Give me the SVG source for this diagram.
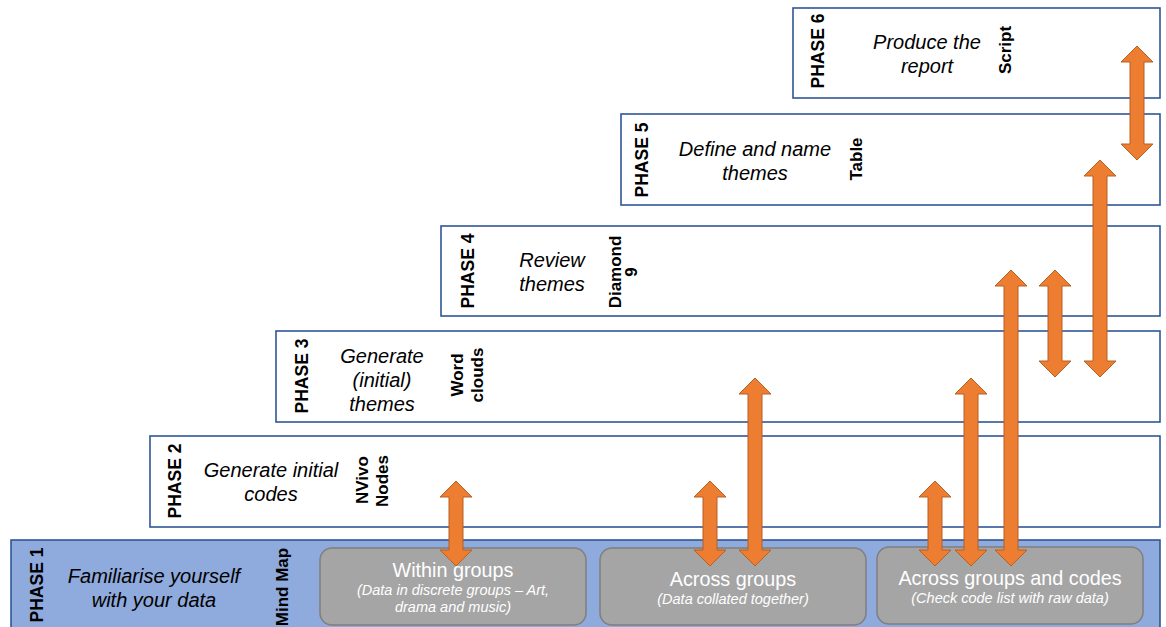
<svg xmlns="http://www.w3.org/2000/svg" width="1166" height="627" viewBox="0 0 1166 627">
<style>
.box{fill:#FFFFFF;stroke:#2F5597;stroke-width:1.6}
.p1{fill:#8FAADC;stroke:#2F5597;stroke-width:1.6}
.grey{fill:#A5A5A5;stroke:#7F7F7F;stroke-width:1.5}
.ph{font-family:"Liberation Sans",Arial,sans-serif;font-weight:bold;font-size:17.5px;fill:#000;text-anchor:middle}
.tool{font-family:"Liberation Sans",Arial,sans-serif;font-weight:bold;font-size:17px;fill:#000;text-anchor:middle}
.it{font-family:"Liberation Sans",Arial,sans-serif;font-style:italic;font-size:20px;fill:#000;text-anchor:middle}
.gt{font-family:"Liberation Sans",Arial,sans-serif;font-size:19.8px;fill:#FFFFFF;text-anchor:middle}
.gs{font-family:"Liberation Sans",Arial,sans-serif;font-style:italic;font-size:14.5px;fill:#FFFFFF;text-anchor:middle}
.arr{fill:#ED7D31;stroke:#B85F22;stroke-width:1}
</style>
<g id="phase6">
<rect class="box" x="793" y="8" width="367" height="90"/>
<text class="ph" transform="translate(824,51) rotate(-90)">PHASE 6</text>
<text class="it" x="927" y="49">Produce the</text>
<text class="it" x="927" y="73">report</text>
<text class="tool" transform="translate(1011,50) rotate(-90)">Script</text>
</g>
<g id="phase5">
<rect class="box" x="621" y="114" width="539" height="91"/>
<text class="ph" transform="translate(648,160) rotate(-90)">PHASE 5</text>
<text class="it" x="755" y="156">Define and name</text>
<text class="it" x="755" y="180">themes</text>
<text class="tool" transform="translate(862,159) rotate(-90)">Table</text>
</g>
<g id="phase4">
<rect class="box" x="441" y="226" width="719" height="90"/>
<text class="ph" transform="translate(474,271) rotate(-90)">PHASE 4</text>
<text class="it" x="552" y="267">Review</text>
<text class="it" x="552" y="291">themes</text>
<text class="tool" transform="translate(621,272) rotate(-90)">Diamond</text>
<text class="tool" transform="translate(637,272) rotate(-90)">9</text>
</g>
<g id="phase3">
<rect class="box" x="276" y="331" width="884" height="91"/>
<text class="ph" transform="translate(308,376) rotate(-90)">PHASE 3</text>
<text class="it" x="382" y="363">Generate</text>
<text class="it" x="382" y="387">(initial)</text>
<text class="it" x="382" y="411">themes</text>
<text class="tool" transform="translate(463,375) rotate(-90)">Word</text>
<text class="tool" transform="translate(483,375) rotate(-90)">clouds</text>
</g>
<g id="phase2">
<rect class="box" x="150" y="436" width="1010" height="91"/>
<text class="ph" transform="translate(181,481) rotate(-90)">PHASE 2</text>
<text class="it" x="271" y="477">Generate initial</text>
<text class="it" x="271" y="501">codes</text>
<text class="tool" transform="translate(368,480) rotate(-90)">NVivo</text>
<text class="tool" transform="translate(388,481) rotate(-90)">Nodes</text>
</g>
<g id="phase1">
<rect class="p1" x="11" y="540" width="1149" height="95"/>
<text class="ph" transform="translate(43,585) rotate(-90)">PHASE 1</text>
<text class="it" x="154" y="583">Familiarise yourself</text>
<text class="it" x="154" y="607">with your data</text>
<text class="tool" transform="translate(288,587) rotate(-90)">Mind Map</text>
</g>
<g id="within-groups">
<rect class="grey" x="320" y="548" width="266" height="77" rx="12"/>
<text class="gt" x="453" y="577">Within groups</text>
<text class="gs" x="453" y="595">(Data in discrete groups – Art,</text>
<text class="gs" x="453" y="612">drama and music)</text>
</g>
<g id="across-groups">
<rect class="grey" x="600" y="548" width="266" height="77" rx="12"/>
<text class="gt" x="733" y="586">Across groups</text>
<text class="gs" x="733" y="604">(Data collated together)</text>
</g>
<g id="across-groups-codes">
<rect class="grey" x="877" y="547" width="266" height="77" rx="12"/>
<text class="gt" x="1010" y="585">Across groups and codes</text>
<text class="gs" x="1010" y="603">(Check code list with raw data)</text>
</g>
<g id="connectors">
<path class="arr" d="M456,481 L472,497 L463,497 L463,550 L472,550 L456,566 L440,550 L449,550 L449,497 L440,497 Z"/>
<path class="arr" d="M710,481 L726,497 L717,497 L717,550 L726,550 L710,566 L694,550 L703,550 L703,497 L694,497 Z"/>
<path class="arr" d="M755,378 L771,394 L762,394 L762,550 L771,550 L755,566 L739,550 L748,550 L748,394 L739,394 Z"/>
<path class="arr" d="M935,481 L951,497 L942,497 L942,550 L951,550 L935,566 L919,550 L928,550 L928,497 L919,497 Z"/>
<path class="arr" d="M971,378 L987,394 L978,394 L978,550 L987,550 L971,566 L955,550 L964,550 L964,394 L955,394 Z"/>
<path class="arr" d="M1011,270 L1027,286 L1018,286 L1018,550 L1027,550 L1011,566 L995,550 L1004,550 L1004,286 L995,286 Z"/>
<path class="arr" d="M1055,270 L1071,286 L1062,286 L1062,361 L1071,361 L1055,377 L1039,361 L1048,361 L1048,286 L1039,286 Z"/>
<path class="arr" d="M1100,160 L1116,176 L1107,176 L1107,361 L1116,361 L1100,377 L1084,361 L1093,361 L1093,176 L1084,176 Z"/>
<path class="arr" d="M1137,46 L1153,62 L1144,62 L1144,144 L1153,144 L1137,160 L1121,144 L1130,144 L1130,62 L1121,62 Z"/>
</g>
</svg>
